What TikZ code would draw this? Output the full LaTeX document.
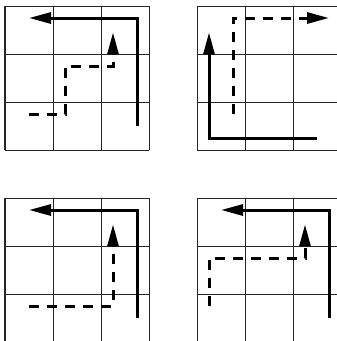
\documentclass[tikz,border=0pt]{standalone}
\usetikzlibrary{arrows.meta}
\tikzset{
  gridline/.style={line width=1pt, draw=black!85},
  solidpath/.style={line width=3pt, line join=miter, -{Triangle[length=22pt,width=11pt]}},
  dashpath/.style={line width=3pt, line join=miter, dash pattern=on 10pt off 8pt, -{Triangle[length=22pt,width=11pt]}},
  board/.style={x=48pt, y=-48pt}
}
\newcommand{\boardgrid}{%
  \foreach \i in {0,1,2,3} {
    \draw[gridline] (\i,0) -- (\i,3);
    \draw[gridline] (0,\i) -- (3,\i);
  }%
}
\begin{document}
\begin{tikzpicture}[x=1pt,y=-1pt]
\useasboundingbox (0,0) rectangle (337,341);
\clip (0,0) rectangle (337,341);
% top-left
\begin{scope}[shift={(5,6)}, board]
  \boardgrid
  \draw[solidpath] (2.75,2.5) -- (2.75,0.25) -- (0.5,0.25);
  \draw[dashpath] (0.5,2.25) -- (1.25,2.25) -- (1.25,1.25) -- (2.25,1.25) -- (2.25,0.55);
\end{scope}
% top-right
\begin{scope}[shift={(197,6)}, board]
  \boardgrid
  \draw[solidpath] (2.5,2.75) -- (0.25,2.75) -- (0.25,0.55);
  \draw[dashpath] (0.75,2.25) -- (0.75,0.25) -- (2.75,0.25);
\end{scope}
% bottom-left
\begin{scope}[shift={(5,198)}, board]
  \boardgrid
  \draw[solidpath] (2.75,2.5) -- (2.75,0.25) -- (0.5,0.25);
  \draw[dashpath] (0.5,2.25) -- (2.25,2.25) -- (2.25,0.55);
\end{scope}
% bottom-right
\begin{scope}[shift={(197,198)}, board]
  \boardgrid
  \draw[solidpath] (2.75,2.5) -- (2.75,0.25) -- (0.5,0.25);
  \draw[dashpath] (0.25,2.25) -- (0.25,1.25) -- (2.25,1.25) -- (2.25,0.55);
\end{scope}
\end{tikzpicture}
\end{document}
